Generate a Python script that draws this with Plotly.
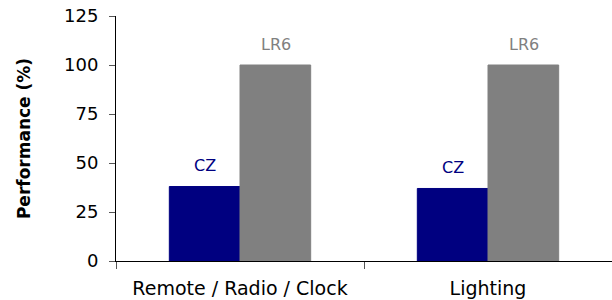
import plotly.graph_objects as go

categories = ["Remote / Radio / Clock", "Lighting"]
cz_values = [38, 37]
lr6_values = [100, 100]
series_names = ["CZ", "LR6"]
colors = ["#000080", "#808080"]
y_ticks = [0, 25, 50, 75, 100, 125]

font = "DejaVu Sans"

fig = go.Figure()
for name, vals, col in zip(series_names, [cz_values, lr6_values], colors):
    fig.add_trace(go.Bar(
        x=categories, y=vals, name=name,
        marker=dict(color=col, line=dict(color=col, width=1)),
    ))

bar_px = 71
for i, (name, vals, col) in enumerate(zip(series_names, [cz_values, lr6_values], colors)):
    shift = (-bar_px / 2) if i == 0 else (bar_px / 2)
    for c, v in zip(categories, vals):
        fig.add_annotation(
            x=c, y=v, text=name, showarrow=False,
            xshift=shift, yshift=21, yanchor="middle",
            font=dict(family=font, size=16, color=col),
        )

fig.update_layout(
    width=612, height=300,
    margin=dict(l=116, r=0, t=16, b=39),
    plot_bgcolor="white", paper_bgcolor="white",
    showlegend=False,
    barmode="group", bargap=0.43, bargroupgap=0,
    font=dict(family=font, size=18, color="black"),
)
fig.update_xaxes(
    showline=True, linecolor="black", linewidth=1,
    ticks="outside", ticklen=7, tickcolor="#555555", tickson="boundaries",
    tickfont=dict(family=font, size=19, color="black"),
    ticklabelstandoff=10,
    showgrid=False, zeroline=False,
)
fig.update_yaxes(
    range=[0, 125], tickvals=y_ticks,
    showline=True, linecolor="black", linewidth=1,
    ticks="outside", ticklen=6, tickcolor="#555555",
    tickfont=dict(family=font, size=18, color="black"),
    ticklabelstandoff=7,
    showgrid=False, zeroline=False,
    title=dict(text="<b>Performance (%)</b>", font=dict(family=font, size=17, color="black"), standoff=29),
)

fig.write_html("out.html", config={"displayModeBar": False},
               post_script="document.body.style.margin='0';document.body.style.padding='0';")
